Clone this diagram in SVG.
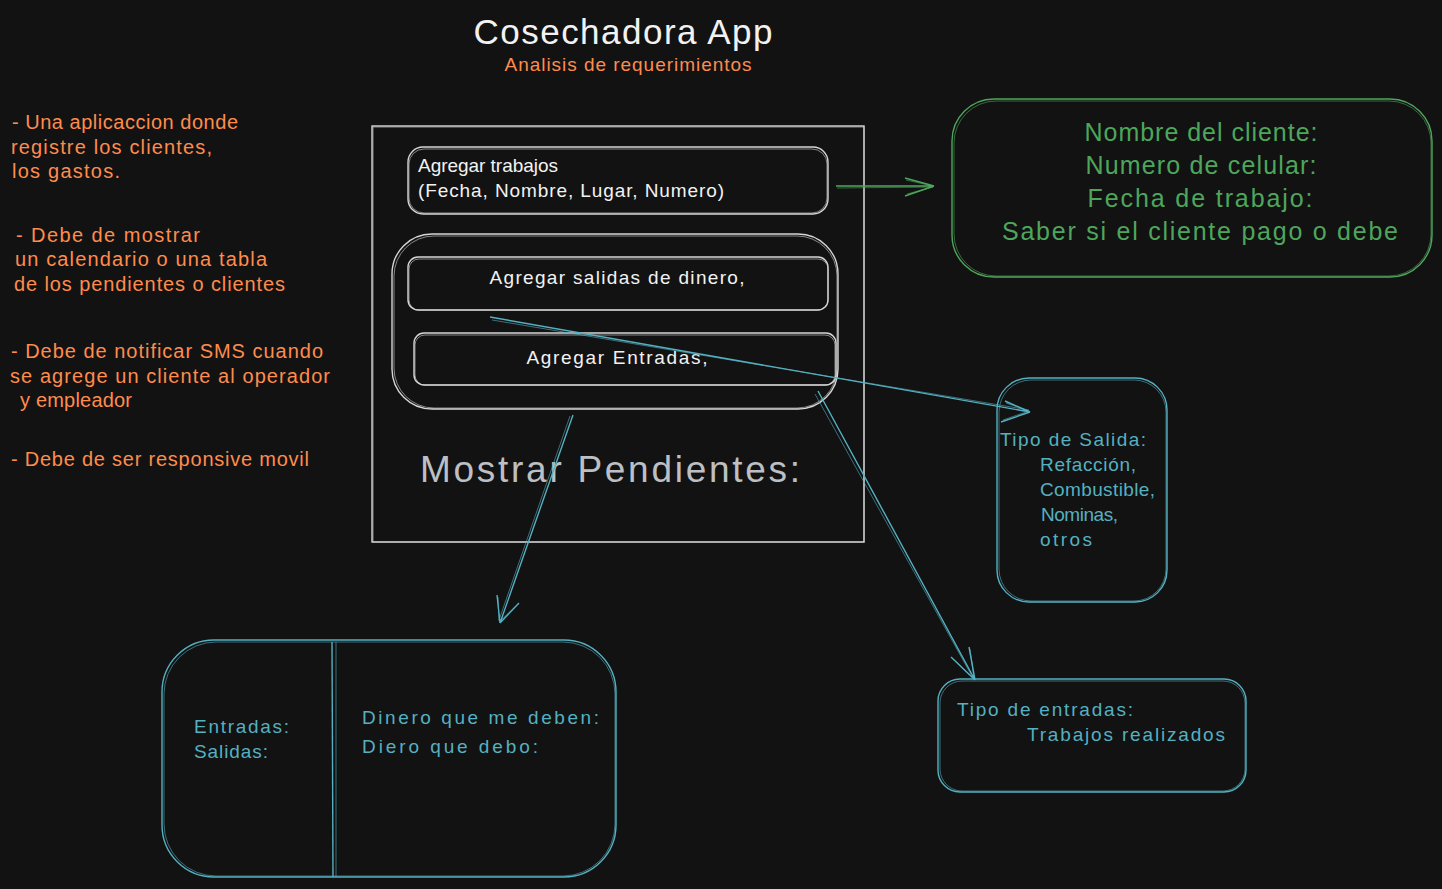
<svg xmlns="http://www.w3.org/2000/svg" width="1442" height="889" viewBox="0 0 1442 889">
<style>
text{font-family:"Liberation Sans","DejaVu Sans",sans-serif;}
.w{fill:none;stroke:#d6d6d6;stroke-width:1.4;}
.w2{fill:none;stroke:#d6d6d6;stroke-width:1;opacity:.6;}
.g{fill:none;stroke:#4ea65c;stroke-width:1.4;}
.g2{fill:none;stroke:#4ea65c;stroke-width:1;opacity:.6;}
.t{fill:none;stroke:#55b0c1;stroke-width:1.4;}
.t2{fill:none;stroke:#55b0c1;stroke-width:1;opacity:.6;}
.or{fill:#ff8c4c;font-size:20px;}
.wt{fill:#f2f2f2;font-size:19px;}
.gt{fill:#4ea65c;font-size:25px;}
.tt{fill:#55b0c1;font-size:19px;}
</style>
<rect width="1442" height="889" fill="#121212"/>

<g id="title">
<text x="623" y="44" text-anchor="middle" fill="#f2f2f2" font-size="35" textLength="299">Cosechadora App</text>
<text x="628" y="71" text-anchor="middle" fill="#ff8c4c" font-size="19" textLength="247">Analisis de requerimientos</text>
</g>

<g id="requirements">
<text class="or" x="12" y="129" textLength="226">- Una aplicaccion donde</text>
<text class="or" x="11" y="154" textLength="201">registre los clientes,</text>
<text class="or" x="12" y="178" textLength="108">los gastos.</text>
<text class="or" x="16" y="242" textLength="184">- Debe de mostrar</text>
<text class="or" x="15" y="266" textLength="252">un calendario o una tabla</text>
<text class="or" x="14" y="291" textLength="271">de los pendientes o clientes</text>
<text class="or" x="11" y="358" textLength="312">- Debe de notificar SMS cuando</text>
<text class="or" x="10" y="383" textLength="320">se agrege un cliente al operador</text>
<text class="or" x="20" y="407" textLength="112">y empleador</text>
<text class="or" x="11" y="466" textLength="298">- Debe de ser responsive movil</text>
</g>

<g id="main-frame">
<rect class="w" x="372" y="126" width="492" height="416"/>
<rect class="w2" x="373" y="127" width="491" height="415"/>
</g>

<g id="agregar-trabajos">
<rect class="w" x="408" y="147" width="420" height="67" rx="15"/>
<rect class="w2" x="409" y="149" width="418" height="64" rx="15"/>
<text class="wt" x="418" y="172" textLength="140">Agregar trabajos</text>
<text class="wt" x="418" y="197" textLength="306">(Fecha, Nombre, Lugar, Numero)</text>
</g>

<g id="dinero-group">
<rect class="w" x="392" y="234" width="446" height="175" rx="40"/>
<rect class="w2" x="394" y="236" width="443" height="172" rx="40"/>
</g>

<g id="agregar-salidas">
<rect class="w" x="408" y="257" width="420" height="53" rx="10"/>
<rect class="w2" x="409" y="259" width="419" height="51" rx="10"/>
<text class="wt" x="617" y="284" text-anchor="middle" textLength="255">Agregar salidas de dinero,</text>
</g>

<g id="agregar-entradas">
<rect class="w" x="414" y="333" width="422" height="52" rx="10"/>
<rect class="w2" x="415" y="335" width="420" height="50" rx="10"/>
<text class="wt" x="617" y="364" text-anchor="middle" textLength="181">Agregar Entradas,</text>
</g>

<g id="mostrar-pendientes">
<text x="420" y="482" fill="#bcc0c4" font-size="37" textLength="380">Mostrar Pendientes:</text>
</g>

<g id="cliente-info">
<rect class="g" x="952" y="99" width="480" height="178" rx="42"/>
<rect class="g2" x="954" y="101" width="477" height="175" rx="42"/>
<text class="gt" x="1201" y="141" text-anchor="middle" textLength="233">Nombre del cliente:</text>
<text class="gt" x="1201" y="174" text-anchor="middle" textLength="231">Numero de celular:</text>
<text class="gt" x="1200" y="207" text-anchor="middle" textLength="225">Fecha de trabajo:</text>
<text class="gt" x="1200" y="240" text-anchor="middle" textLength="396">Saber si el cliente pago o debe</text>
</g>

<g id="tipo-salida">
<rect class="t" x="997" y="378" width="170" height="224" rx="32"/>
<rect class="t2" x="999" y="380" width="167" height="221" rx="32"/>
<text class="tt" x="1000" y="446" textLength="146">Tipo de Salida:</text>
<text class="tt" x="1040" y="471" textLength="96">Refacción,</text>
<text class="tt" x="1040" y="496" textLength="115">Combustible,</text>
<text class="tt" x="1041" y="521" textLength="77">Nominas,</text>
<text class="tt" x="1040" y="546" textLength="52">otros</text>
</g>

<g id="pendientes-tabla">
<rect class="t" x="162" y="640" width="454" height="237" rx="52"/>
<rect class="t2" x="164" y="642" width="451" height="234" rx="52"/>
<line class="t" x1="332" y1="642" x2="333" y2="877"/>
<line class="t2" x1="336" y1="642" x2="336" y2="877"/>
<text class="tt" x="194" y="733" textLength="95">Entradas:</text>
<text class="tt" x="194" y="758" textLength="74">Salidas:</text>
<text class="tt" x="362" y="724" font-size="22" textLength="237">Dinero que me deben:</text>
<text class="tt" x="362" y="753" font-size="22" textLength="176">Diero que debo:</text>
</g>

<g id="tipo-entradas">
<rect class="t" x="938" y="679" width="308" height="113" rx="22"/>
<rect class="t2" x="940" y="681" width="305" height="110" rx="22"/>
<text class="tt" x="957" y="716" font-size="20" textLength="176">Tipo de entradas:</text>
<text class="tt" x="1027" y="741" font-size="20" textLength="198">Trabajos realizados</text>
</g>

<g id="connectors">
<path class="g" d="M836 186 L934 186 M934 186 L905 178 M934 186 L905 196"/>
<path class="g2" d="M837 188 L933 187 M933 186 L906 180 M933 187 L907 194"/>
<path class="t" d="M490 317 L1030 412 M1030 412 L1005 401 M1030 412 L1001 422"/>
<path class="t2" d="M492 320 L1029 410 M1029 411 L1006 403 M1029 411 L1003 420"/>
<path class="t" d="M573 415 L500 623 M500 623 L497 595 M500 623 L519 603"/>
<path class="t2" d="M570 416 L499 620 M499 621 L498 597 M500 621 L517 605"/>
<path class="t" d="M818 391 L975 680 M975 680 L969 647 M975 680 L951 657"/>
<path class="t2" d="M815 394 L973 678 M974 678 L970 649 M973 678 L953 659"/>
</g>
</svg>
